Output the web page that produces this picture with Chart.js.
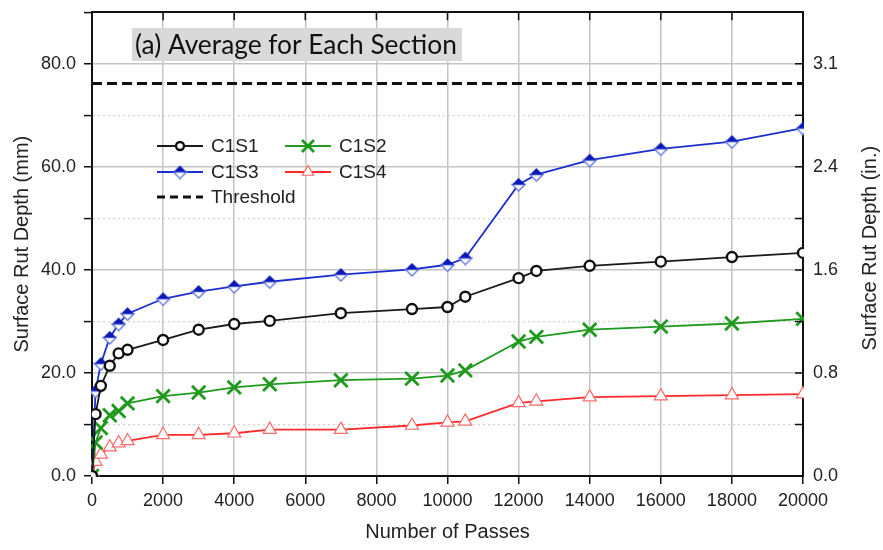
<!DOCTYPE html>
<html>
<head>
<meta charset="utf-8">
<script src="https://cdn.jsdelivr.net/npm/chart.js@4.4.1/dist/chart.umd.min.js"></script>
<style>
  html, body { margin: 0; padding: 0; background: #fff; }
  #wrap { width: 883px; height: 550px; }
</style>
</head>
<body>
<div id="wrap"><canvas id="rutChart" width="883" height="550"></canvas></div>
<script>
// data (mm)
const PASSES = [0, 100, 250, 500, 750, 1000, 2000, 3000, 4000, 5000, 7000, 9000, 10000, 10500, 12000, 12500, 14000, 16000, 18000, 20000];
const C1S1 = [0, 12.0, 17.5, 21.4, 23.8, 24.5, 26.4, 28.4, 29.5, 30.1, 31.6, 32.4, 32.8, 34.8, 38.4, 39.8, 40.8, 41.6, 42.5, 43.3];
const C1S2 = [0, 6.5, 9.3, 11.8, 12.6, 14.1, 15.5, 16.2, 17.2, 17.8, 18.6, 18.9, 19.5, 20.5, 26.1, 27.0, 28.4, 29.0, 29.6, 30.5];
const C1S3 = [0, 16.5, 21.8, 26.9, 29.5, 31.5, 34.4, 35.8, 36.8, 37.7, 39.1, 40.1, 41.0, 42.3, 56.6, 58.5, 61.3, 63.5, 64.9, 67.5];
const C1S4 = [0, 2.8, 4.2, 5.6, 6.4, 6.8, 8.0, 8.0, 8.3, 9.0, 9.0, 9.8, 10.4, 10.6, 14.2, 14.5, 15.3, 15.5, 15.7, 15.9];
const THRESHOLD_MM = 76.2;
const THRESHOLD_X = [0, 20000];

const X_MIN = 0, X_MAX = 20000, X_STEP = 2000;
const Y_MIN = 0, Y_MAX = 90, Y_STEP = 10, Y_LABEL_STEP = 20;
const MM_PER_IN = 25.4;

const FONT = "'Liberation Sans', Arial, sans-serif";
const TEXT = '#222';

// half filled diamond marker used by C1S3
function makeDiamond(size) {
  const c = document.createElement('canvas');
  c.width = size; c.height = size;
  const g = c.getContext('2d');
  const m = size / 2, r = size / 2 - 1;
  g.lineWidth = 1.3;
  g.fillStyle = '#fff';
  g.strokeStyle = '#6677e0';
  g.beginPath();
  g.moveTo(m - r, m); g.lineTo(m, m + r); g.lineTo(m + r, m);
  g.closePath(); g.fill(); g.stroke();
  g.fillStyle = '#0a18b8';
  g.beginPath();
  g.moveTo(m - r, m); g.lineTo(m, m - r); g.lineTo(m + r, m);
  g.closePath(); g.fill();
  return c;
}
const diamond = makeDiamond(15);

function pts(ys) {
  return PASSES.map((x, i) => ({ x: x, y: ys[i] }));
}

const series = [
  { label: 'C1S1', data: C1S1, color: '#1a1a1a', style: 'circle', radius: 5, bw: 2.4, bg: '#fff', pointColor: '#111' },
  { label: 'C1S2', data: C1S2, color: '#1f9a1f', style: 'crossRot', radius: 9.5, bw: 2.8, bg: '#1f9a1f', pointColor: '#1f9a1f' },
  { label: 'C1S3', data: C1S3, color: '#1b2fd0', style: diamond, radius: 7, bw: 1, bg: '#fff', pointColor: '#1b2fd0' },
  { label: 'C1S4', data: C1S4, color: '#ff2a2a', style: 'triangle', radius: 7.5, bw: 1.2, bg: '#fff', pointColor: '#ff6a6a' }
];

const datasets = series.map(s => ({
  label: s.label,
  data: pts(s.data),
  borderColor: s.color,
  borderWidth: 1.8,
  pointStyle: s.style,
  pointRadius: s.radius,
  pointBorderWidth: s.bw,
  pointBorderColor: s.pointColor,
  pointBackgroundColor: s.bg,
  tension: 0,
  clip: 1
}));
datasets.push({
  label: 'Threshold',
  data: THRESHOLD_X.map(x => ({ x: x, y: THRESHOLD_MM })),
  borderColor: '#111',
  borderWidth: 3,
  borderDash: [10, 5],
  pointRadius: 0,
  tension: 0,
  order: 10
});

const isMajor = v => v % Y_LABEL_STEP === 0;
const inside = v => v > Y_MIN && v < Y_MAX;

// title box, legend, right axis title and the inward ticks of the top / right axes
const decor = {
  id: 'decor',
  afterDraw(chart) {
    const ctx = chart.ctx;
    const area = chart.chartArea;
    const xs = chart.scales.x, ys = chart.scales.y;
    ctx.save();

    // inward ticks
    ctx.strokeStyle = '#111';
    ctx.lineWidth = 1.5;
    ctx.beginPath();
    for (let v = X_MIN + X_STEP; v < X_MAX; v += X_STEP) {
      const px = xs.getPixelForValue(v);
      ctx.moveTo(px, area.top); ctx.lineTo(px, area.top + 8);
    }
    for (let v = Y_MIN + Y_STEP; v < Y_MAX; v += Y_STEP) {
      const py = ys.getPixelForValue(v);
      ctx.moveTo(area.right, py); ctx.lineTo(area.right - 8, py);
    }
    ctx.stroke();

    // right axis title, reading bottom to top
    ctx.save();
    ctx.translate(870, (area.top + area.bottom) / 2 + 4);
    ctx.rotate(-Math.PI / 2);
    ctx.font = '20px ' + FONT;
    ctx.fillStyle = TEXT;
    ctx.textAlign = 'center';
    ctx.textBaseline = 'middle';
    ctx.fillText('Surface Rut Depth (in.)', 0, 0);
    ctx.restore();

    // title box
    const title = '(a) Average for Each Section';
    let size = 25;
    ctx.font = size + "px Lato, 'Open Sans', sans-serif";
    const w = ctx.measureText(title).width;
    size = size * 322 / w;
    ctx.font = size.toFixed(2) + "px Lato, 'Open Sans', sans-serif";
    ctx.fillStyle = '#d9d9d9';
    ctx.fillRect(132, 28, 330, 33);
    ctx.fillStyle = '#111';
    ctx.textBaseline = 'alphabetic';
    ctx.fillText(title, 135, 54);

    // legend
    const rows = [
      [series[0], 157, 146], [series[1], 285, 146],
      [series[2], 157, 172], [series[3], 285, 172]
    ];
    ctx.font = '19px ' + FONT;
    ctx.textBaseline = 'middle';
    rows.forEach(([s, x0, y0]) => {
      ctx.setLineDash([]);
      ctx.strokeStyle = s.color;
      ctx.lineWidth = 1.8;
      ctx.beginPath(); ctx.moveTo(x0, y0); ctx.lineTo(x0 + 46, y0); ctx.stroke();
      ctx.fillStyle = s.bg;
      ctx.strokeStyle = s.pointColor;
      ctx.lineWidth = s.bw;
      Chart.helpers.drawPoint(ctx, { pointStyle: s.style, radius: s.radius - 1, borderWidth: s.bw, rotation: 0 }, x0 + 23, y0);
      ctx.fillStyle = TEXT;
      ctx.fillText(s.label, x0 + 54, y0 + 1);
    });
    ctx.strokeStyle = '#111';
    ctx.lineWidth = 3;
    ctx.setLineDash([8, 5]);
    ctx.beginPath(); ctx.moveTo(157, 197); ctx.lineTo(203, 197); ctx.stroke();
    ctx.setLineDash([]);
    ctx.fillStyle = TEXT;
    ctx.fillText('Threshold', 211, 198);

    ctx.restore();
  }
};

const tickFont = { family: FONT, size: 18 };
const titleFont = { family: FONT, size: 20 };
const noPad = s => { s.paddingTop = 0; s.paddingBottom = 0; };

new Chart(document.getElementById('rutChart'), {
  type: 'line',
  data: { datasets: datasets },
  plugins: [decor],
  options: {
    responsive: false,
    animation: false,
    layout: { padding: 0 },
    plugins: { legend: { display: false }, tooltip: { enabled: false } },
    scales: {
      x: {
        type: 'linear', position: 'bottom', min: X_MIN, max: X_MAX,
        afterFit: s => { s.height = 74; },
        ticks: { stepSize: X_STEP, color: TEXT, font: tickFont, padding: 6, maxRotation: 0, autoSkip: false, callback: v => String(v) },
        grid: {
          color: c => (c.tick && c.tick.value > X_MIN && c.tick.value < X_MAX) ? '#c4c4c4' : 'rgba(0,0,0,0)',
          lineWidth: 1.5, tickColor: '#111', tickLength: 8, tickWidth: 1.5
        },
        border: { color: '#111', width: 2 },
        title: { display: true, text: 'Number of Passes', color: TEXT, font: titleFont, padding: { top: 0, bottom: 6 } }
      },
      x2: {
        type: 'linear', position: 'top', min: X_MIN, max: X_MAX,
        afterFit: s => { s.height = 10; },
        ticks: { display: false },
        grid: { drawOnChartArea: false, drawTicks: false },
        border: { color: '#111', width: 2 }
      },
      y: {
        position: 'left', min: Y_MIN, max: Y_MAX,
        afterFit: s => { s.width = 92; noPad(s); },
        ticks: {
          stepSize: Y_STEP, color: TEXT, font: tickFont, padding: 8,
          callback: v => isMajor(v) ? v.toFixed(1) : ''
        },
        grid: {
          color: c => !c.tick || !inside(c.tick.value) ? 'rgba(0,0,0,0)' : (isMajor(c.tick.value) ? '#c4c4c4' : '#d2d2d2'),
          lineWidth: c => (c.tick && isMajor(c.tick.value)) ? 1.5 : 1.2,
          tickColor: '#111', tickLength: 8, tickWidth: 1.5
        },
        border: {
          color: '#111', width: 2,
          dash: c => (c.tick && !isMajor(c.tick.value)) ? [2, 3] : []
        },
        title: { display: true, text: 'Surface Rut Depth (mm)', color: TEXT, font: titleFont, padding: { top: 10, bottom: 0 } }
      },
      y2: {
        position: 'right', min: Y_MIN, max: Y_MAX,
        afterFit: s => { s.width = 80; noPad(s); },
        ticks: {
          stepSize: Y_STEP, color: TEXT, font: tickFont, padding: 10,
          callback: v => isMajor(v) ? (v / MM_PER_IN).toFixed(1) : ''
        },
        grid: { drawOnChartArea: false, drawTicks: false },
        border: { color: '#111', width: 2 }
      }
    }
  }
});
</script>
</body>
</html>
